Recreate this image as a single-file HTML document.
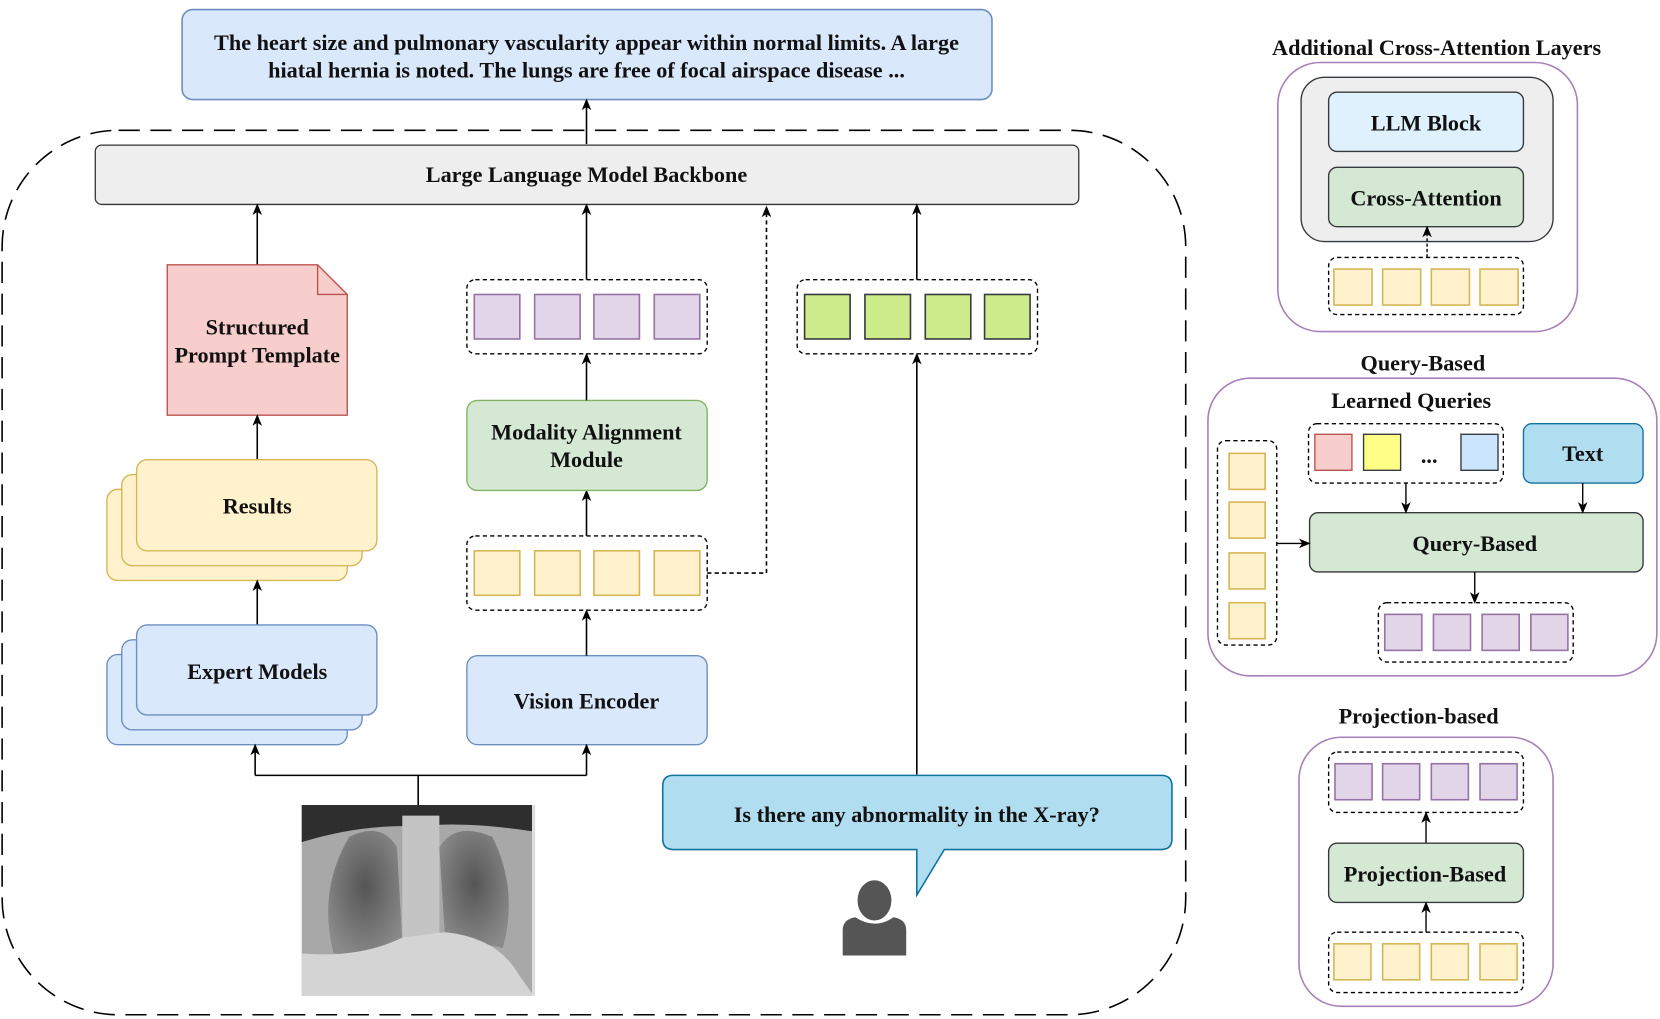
<!DOCTYPE html>
<html><head><meta charset="utf-8"><style>
html,body{margin:0;padding:0;background:#fff;}
svg{display:block;}
text{font-family:"Liberation Serif",serif;font-weight:bold;fill:#111;}
</style></head><body>
<svg width="1660" height="1019" viewBox="0 0 1568 962" preserveAspectRatio="none" xmlns="http://www.w3.org/2000/svg">
<defs>
<marker id="ar" markerWidth="12" markerHeight="12" refX="9" refY="6" orient="auto" markerUnits="userSpaceOnUse">
<path d="M0,1.5 L11,6 L0,10.5 L3,6 Z" fill="#000"/></marker>
<radialGradient id="lung" cx="50%" cy="45%" r="60%"><stop offset="0" stop-color="#555"/><stop offset="1" stop-color="#8a8a8a"/></radialGradient>
</defs>
<g font-size="21" text-anchor="middle">
<rect x="172" y="9" width="765" height="85" rx="10" fill="#dae8fc" stroke="#6c8ebf" stroke-width="1.5"/>
<text x="554" y="47">The heart size and pulmonary vascularity appear within normal limits. A large</text>
<text x="554" y="73">hiatal hernia is noted. The lungs are free of focal airspace disease ...</text>
<line x1="554" y1="136" x2="554" y2="95" stroke="#000" stroke-width="1.5" marker-end="url(#ar)"/>
<rect x="2" y="123" width="1118" height="835" rx="110" fill="none" stroke="#000" stroke-width="1.5" stroke-dasharray="20 10"/>
<rect x="90" y="137" width="929" height="56" rx="6" fill="#eeeeee" stroke="#333" stroke-width="1.2"/>
<text x="554" y="172">Large Language Model Backbone</text>
<line x1="243" y1="250" x2="243" y2="194" stroke="#000" stroke-width="1.5" marker-end="url(#ar)"/>
<line x1="554" y1="264" x2="554" y2="194" stroke="#000" stroke-width="1.5" marker-end="url(#ar)"/>
<polyline points="668,541 724,541 724,196" fill="none" stroke="#000" stroke-width="1.5" stroke-dasharray="4 3" marker-end="url(#ar)"/>
<line x1="866" y1="264" x2="866" y2="194" stroke="#000" stroke-width="1.5" marker-end="url(#ar)"/>
<path d="M158,250 H300 L328,278 V392 H158 Z" fill="#f8cecc" stroke="#b85450" stroke-width="1.3"/>
<path d="M300,250 V278 H328" fill="none" stroke="#b85450" stroke-width="1.3"/>
<text x="243" y="316">Structured</text>
<text x="243" y="342">Prompt Template</text>
<line x1="243" y1="434" x2="243" y2="393" stroke="#000" stroke-width="1.5" marker-end="url(#ar)"/>
<rect x="101" y="462" width="227" height="86" rx="10" fill="#fff2cc" stroke="#d6b656" stroke-width="1.3"/>
<rect x="115" y="448" width="227" height="86" rx="10" fill="#fff2cc" stroke="#d6b656" stroke-width="1.3"/>
<rect x="129" y="434" width="227" height="86" rx="10" fill="#fff2cc" stroke="#d6b656" stroke-width="1.3"/>
<text x="243" y="485">Results</text>
<line x1="243" y1="590" x2="243" y2="549" stroke="#000" stroke-width="1.5" marker-end="url(#ar)"/>
<rect x="101" y="618" width="227" height="85" rx="10" fill="#dae8fc" stroke="#6c8ebf" stroke-width="1.3"/>
<rect x="115" y="604" width="227" height="85" rx="10" fill="#dae8fc" stroke="#6c8ebf" stroke-width="1.3"/>
<rect x="129" y="590" width="227" height="85" rx="10" fill="#dae8fc" stroke="#6c8ebf" stroke-width="1.3"/>
<text x="243" y="641">Expert Models</text>
<rect x="441" y="619" width="227" height="84" rx="10" fill="#dae8fc" stroke="#6c8ebf" stroke-width="1.3"/>
<text x="554" y="669">Vision Encoder</text>
<line x1="554" y1="619" x2="554" y2="577" stroke="#000" stroke-width="1.5" marker-end="url(#ar)"/>
<rect x="441" y="506" width="227" height="70" rx="8" fill="none" stroke="#000" stroke-width="1.3" stroke-dasharray="4 3"/>
<g fill="#fff2cc" stroke="#d6b656" stroke-width="1.5">
<rect x="448" y="520" width="43" height="42"/><rect x="505" y="520" width="43" height="42"/><rect x="561" y="520" width="43" height="42"/><rect x="618" y="520" width="43" height="42"/></g>
<line x1="554" y1="506" x2="554" y2="464" stroke="#000" stroke-width="1.5" marker-end="url(#ar)"/>
<rect x="441" y="378" width="227" height="85" rx="10" fill="#d5e8d4" stroke="#82b366" stroke-width="1.3"/>
<text x="554" y="415">Modality Alignment</text>
<text x="554" y="441">Module</text>
<line x1="554" y1="378" x2="554" y2="335" stroke="#000" stroke-width="1.5" marker-end="url(#ar)"/>
<rect x="441" y="264" width="227" height="70" rx="8" fill="none" stroke="#000" stroke-width="1.3" stroke-dasharray="4 3"/>
<g fill="#e1d5e7" stroke="#9673a6" stroke-width="1.5">
<rect x="448" y="278" width="43" height="42"/><rect x="505" y="278" width="43" height="42"/><rect x="561" y="278" width="43" height="42"/><rect x="618" y="278" width="43" height="42"/></g>
<rect x="753" y="264" width="227" height="70" rx="8" fill="none" stroke="#000" stroke-width="1.3" stroke-dasharray="4 3"/>
<g fill="#cdeb8b" stroke="#36393d" stroke-width="1.5">
<rect x="760" y="278" width="43" height="42"/><rect x="817" y="278" width="43" height="42"/><rect x="874" y="278" width="43" height="42"/><rect x="930" y="278" width="43" height="42"/></g>
<line x1="866" y1="731" x2="866" y2="335" stroke="#000" stroke-width="1.5" marker-end="url(#ar)"/>
<polyline points="395,760 395,732" fill="none" stroke="#000" stroke-width="1.5"/>
<line x1="241" y1="732" x2="554" y2="732" stroke="#000" stroke-width="1.5"/>
<line x1="241" y1="732" x2="241" y2="704" stroke="#000" stroke-width="1.5" marker-end="url(#ar)"/>
<line x1="554" y1="732" x2="554" y2="704" stroke="#000" stroke-width="1.5" marker-end="url(#ar)"/>
<!-- xray -->
<rect x="285" y="760" width="219" height="180" fill="#a8a8a8"/>
<path d="M285,760 H504 V785 Q440,775 395,780 Q340,778 285,795 Z" fill="#2e2e2e"/>
<path d="M315,900 Q300,840 330,790 Q360,775 375,800 L380,890 Q350,905 315,900 Z" fill="url(#lung)"/>
<path d="M475,895 Q490,840 465,790 Q430,775 415,800 L420,880 Q450,890 475,895 Z" fill="url(#lung)"/>
<rect x="380" y="770" width="35" height="120" fill="#c4c4c4"/>
<path d="M285,900 Q340,905 380,885 L420,880 Q470,885 490,920 L504,940 H285 Z" fill="#d4d4d4"/>
<path d="M504,760 V940" stroke="#ddd" stroke-width="3"/>
<path d="M636,732 H1097 Q1107,732 1107,742 V792 Q1107,802 1097,802 H892 L866,845 V802 H636 Q626,802 626,792 V742 Q626,732 636,732 Z" fill="#b1ddf0" stroke="#10739e" stroke-width="1.5"/>
<text x="866" y="776">Is there any abnormality in the X-ray?</text>
<ellipse cx="826" cy="850" rx="16" ry="19" fill="#555"/>
<path d="M796,902 V878 Q796,868 808,866 Q826,878 844,866 Q856,868 856,878 V902 Z" fill="#555"/>

<text x="1357" y="52">Additional Cross-Attention Layers</text>
<rect x="1207" y="59" width="283" height="254" rx="40" fill="none" stroke="#a680b8" stroke-width="1.5"/>
<rect x="1229" y="73" width="238" height="155" rx="22" fill="#eeeeee" stroke="#36393d" stroke-width="1.3"/>
<rect x="1255" y="87" width="184" height="56" rx="8" fill="#dff1fc" stroke="#36393d" stroke-width="1.3"/>
<text x="1347" y="123">LLM Block</text>
<rect x="1255" y="158" width="184" height="56" rx="8" fill="#d5e8d4" stroke="#36393d" stroke-width="1.3"/>
<text x="1347" y="194">Cross-Attention</text>
<line x1="1348" y1="243" x2="1348" y2="215" stroke="#000" stroke-width="1.3" stroke-dasharray="3 2" marker-end="url(#ar)"/>
<rect x="1255" y="243" width="184" height="54" rx="8" fill="none" stroke="#000" stroke-width="1.3" stroke-dasharray="4 3"/>
<g fill="#fff2cc" stroke="#d6b656" stroke-width="1.5">
<rect x="1260" y="254" width="36" height="34"/><rect x="1306" y="254" width="36" height="34"/><rect x="1352" y="254" width="36" height="34"/><rect x="1398" y="254" width="36" height="34"/></g>

<text x="1344" y="350">Query-Based</text>
<rect x="1141" y="357" width="424" height="281" rx="40" fill="none" stroke="#a680b8" stroke-width="1.5"/>
<text x="1333" y="385">Learned Queries</text>
<rect x="1236" y="400" width="184" height="56" rx="8" fill="none" stroke="#000" stroke-width="1.3" stroke-dasharray="4 3"/>
<rect x="1242" y="410" width="35" height="34" fill="#f8cecc" stroke="#b85450" stroke-width="1.3"/>
<rect x="1288" y="410" width="35" height="34" fill="#ffff88" stroke="#36393d" stroke-width="1.3"/>
<text x="1350" y="437">...</text>
<rect x="1380" y="410" width="35" height="34" fill="#cce5ff" stroke="#36393d" stroke-width="1.3"/>
<rect x="1439" y="400" width="113" height="56" rx="8" fill="#b1ddf0" stroke="#10739e" stroke-width="1.3"/>
<text x="1495" y="435">Text</text>
<rect x="1237" y="484" width="315" height="56" rx="8" fill="#d5e8d4" stroke="#36393d" stroke-width="1.3"/>
<text x="1393" y="520">Query-Based</text>
<line x1="1328" y1="456" x2="1328" y2="483" stroke="#000" stroke-width="1.3" marker-end="url(#ar)"/>
<line x1="1495" y1="456" x2="1495" y2="483" stroke="#000" stroke-width="1.3" marker-end="url(#ar)"/>
<line x1="1393" y1="540" x2="1393" y2="568" stroke="#000" stroke-width="1.3" marker-end="url(#ar)"/>
<rect x="1150" y="416" width="56" height="193" rx="8" fill="none" stroke="#000" stroke-width="1.3" stroke-dasharray="4 3"/>
<g fill="#fff2cc" stroke="#d6b656" stroke-width="1.5">
<rect x="1161" y="428" width="34" height="34"/><rect x="1161" y="474" width="34" height="34"/><rect x="1161" y="522" width="34" height="34"/><rect x="1161" y="569" width="34" height="34"/></g>
<line x1="1206" y1="513" x2="1236" y2="513" stroke="#000" stroke-width="1.3" marker-end="url(#ar)"/>
<rect x="1302" y="569" width="184" height="56" rx="8" fill="none" stroke="#000" stroke-width="1.3" stroke-dasharray="4 3"/>
<g fill="#e1d5e7" stroke="#9673a6" stroke-width="1.5">
<rect x="1308" y="580" width="35" height="34"/><rect x="1354" y="580" width="35" height="34"/><rect x="1400" y="580" width="35" height="34"/><rect x="1446" y="580" width="35" height="34"/></g>

<text x="1340" y="683">Projection-based</text>
<rect x="1227" y="696" width="240" height="254" rx="40" fill="none" stroke="#a680b8" stroke-width="1.5"/>
<rect x="1255" y="710" width="184" height="57" rx="8" fill="none" stroke="#000" stroke-width="1.3" stroke-dasharray="4 3"/>
<g fill="#e1d5e7" stroke="#9673a6" stroke-width="1.5">
<rect x="1261" y="721" width="35" height="34"/><rect x="1306" y="721" width="35" height="34"/><rect x="1352" y="721" width="35" height="34"/><rect x="1398" y="721" width="35" height="34"/></g>
<line x1="1347" y1="796" x2="1347" y2="768" stroke="#000" stroke-width="1.3" marker-end="url(#ar)"/>
<rect x="1255" y="796" width="184" height="56" rx="8" fill="#d5e8d4" stroke="#36393d" stroke-width="1.3"/>
<text x="1346" y="832">Projection-Based</text>
<line x1="1347" y1="880" x2="1347" y2="853" stroke="#000" stroke-width="1.3" marker-end="url(#ar)"/>
<rect x="1255" y="880" width="184" height="57" rx="8" fill="none" stroke="#000" stroke-width="1.3" stroke-dasharray="4 3"/>
<g fill="#fff2cc" stroke="#d6b656" stroke-width="1.5">
<rect x="1260" y="891" width="35" height="34"/><rect x="1306" y="891" width="35" height="34"/><rect x="1352" y="891" width="35" height="34"/><rect x="1398" y="891" width="35" height="34"/></g>
</g>
</svg>
</body></html>
